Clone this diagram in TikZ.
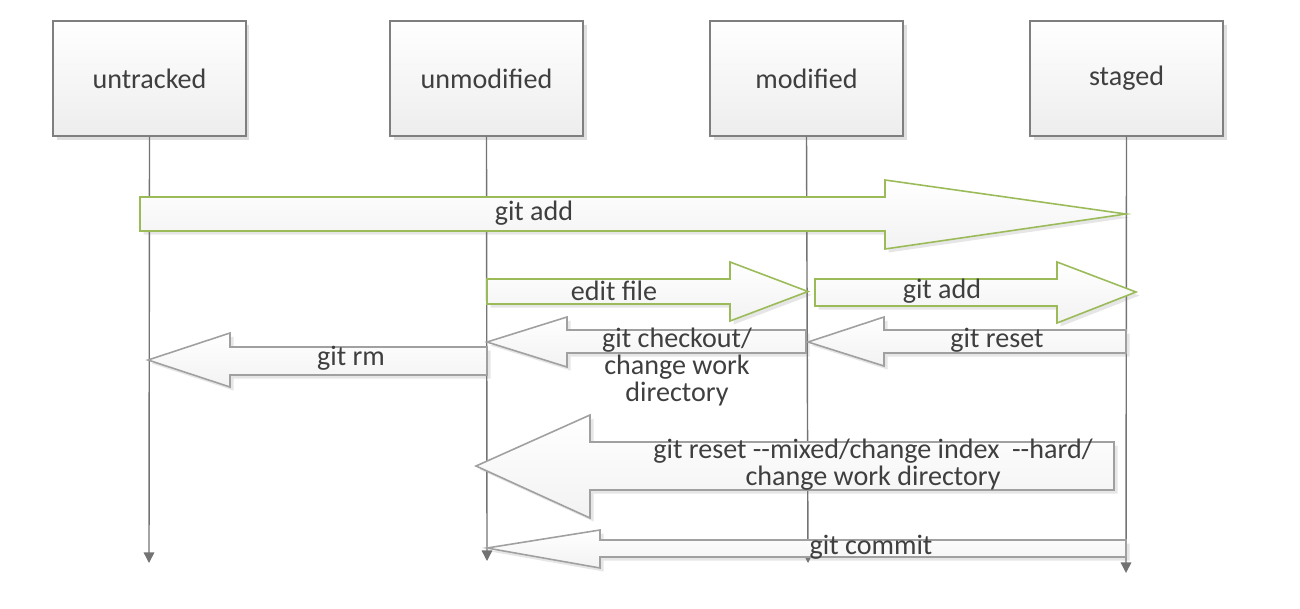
\documentclass[tikz,border=0pt]{standalone}
\usepackage{fontspec}
\setmainfont{Carlito}
\usetikzlibrary{arrows.meta,shadows,positioning}

\definecolor{boxline}{HTML}{7F7F7F}
\definecolor{addgreen}{HTML}{9BBB59}
\definecolor{backgrey}{HTML}{A0A0A0}
\definecolor{txt}{HTML}{3F3F3F}

\tikzset{
  statebox/.style={draw=boxline, line width=0.8pt, top color=white, bottom color=black!7,
    minimum width=3.86cm, minimum height=2.3cm, text=txt,
    font=\fontsize{16}{17}\selectfont,
    drop shadow={shadow xshift=2pt, shadow yshift=-2pt, opacity=0.25}},
  lifeline/.style={draw=black!55, line width=0.8pt, -{Triangle[length=6pt,width=6pt]}},
  fwdarrow/.style={draw=addgreen, line width=0.9pt, top color=white, bottom color=black!5,
    drop shadow={shadow xshift=2pt, shadow yshift=-2pt, opacity=0.2}},
  backarrow/.style={draw=backgrey, line width=0.9pt, top color=white, bottom color=black!5,
    drop shadow={shadow xshift=2pt, shadow yshift=-2pt, opacity=0.2}},
  lbl/.style={text=txt, align=center, inner sep=0pt, font=\fontsize{16}{15.5}\selectfont}
}

\begin{document}
\begin{tikzpicture}[x=0.02cm, y=-0.02cm]
  \useasboundingbox (0,0) rectangle (1300,608);

  % states
  \node[statebox] (untracked) at (149.5,78.5) {untracked};
  \node[statebox] (unmodified) at (486.5,78.5) {unmodified};
  \node[statebox] (modified) at (806.5,78.5) {modified};
  \node[statebox] (staged) at (1126.5,78.5) {staged};

  % lifelines
  \coordinate (untracked end) at (149,563);
  \coordinate (unmodified end) at (487,561);
  \coordinate (modified end) at (808,563);
  \coordinate (staged end) at (1126,573);
  \draw[lifeline] (untracked.south) -- (untracked end);
  \draw[lifeline] (unmodified.south) -- (unmodified end);
  \draw[lifeline] (modified.south) -- (modified end);
  \draw[lifeline] (staged.south) -- (staged end);

  % git add (untracked -> staged)
  \draw[fwdarrow] (140,197) -- (885,197) -- (885,180) -- (1126,214) -- (885,249)
    -- (885,231) -- (140,231) -- cycle;
  \node[lbl] (addall) at (534,213) {git add};

  % edit file
  \draw[fwdarrow] (487,279) -- (730,279) -- (730,262) -- (808,291.5) -- (730,321)
    -- (730,304) -- (487,304) -- cycle;
  \node[lbl] (editfile) at (614,291) {edit file};

  % git add (modified -> staged)
  \draw[fwdarrow] (815,279) -- (1057,279) -- (1057,262) -- (1136,292) -- (1057,323)
    -- (1057,306) -- (815,306) -- cycle;
  \node[lbl] (addmod) at (942,291) {git add};

  % git checkout
  \draw[backarrow] (806,330) -- (567,330) -- (567,317) -- (487,342) -- (567,367)
    -- (567,353) -- (806,353) -- cycle;
  \node[lbl] (checkout) at (677,367) {git checkout/\\change work\\directory};

  % git reset
  \draw[backarrow] (1126,330) -- (884,330) -- (884,317) -- (808,342) -- (884,366)
    -- (884,353) -- (1126,353) -- cycle;
  \node[lbl] (reset) at (997,340) {git reset};

  % git rm
  \draw[backarrow] (487,347) -- (230,347) -- (230,333) -- (148,360) -- (230,387)
    -- (230,375) -- (487,375) -- cycle;
  \node[lbl] (remove) at (351,358) {git rm};

  % git reset --mixed / --hard
  \draw[backarrow] (1114,442) -- (590,442) -- (590,415) -- (476,466) -- (590,518)
    -- (590,490) -- (1114,490) -- cycle;
  \node[lbl] (resethard) at (873,465) {git reset -{}-mixed/change index \ -{}-hard/\\change work directory};

  % git commit
  \draw[backarrow] (1126,540) -- (600,540) -- (600,530) -- (487,548) -- (600,568)
    -- (600,557) -- (1126,557) -- cycle;
  \node[lbl] (commit) at (871,547) {git commit};
\end{tikzpicture}
\end{document}
